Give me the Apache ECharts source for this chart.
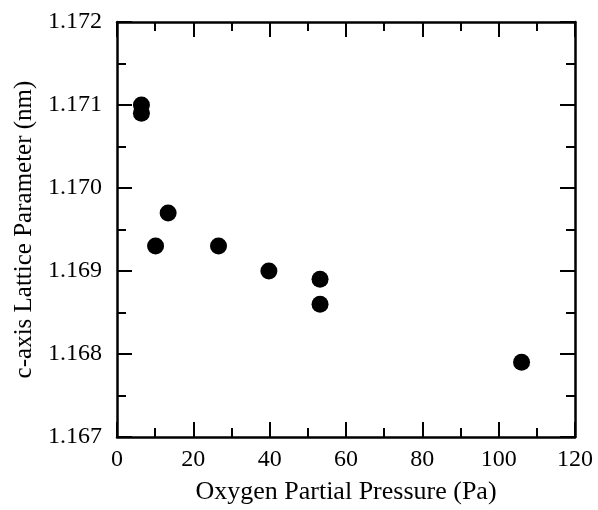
<!DOCTYPE html>
<html>
<head>
<meta charset="utf-8">
<script src="https://cdn.jsdelivr.net/npm/echarts@6/dist/echarts.min.js"></script>
<style>
  html, body { margin: 0; padding: 0; background: #fff; }
  #chart { width: 598px; height: 510px; }
</style>
</head>
<body>
<div id="chart"></div>
<script>
// oxygen partial pressure (Pa) vs c-axis lattice parameter (nm)
const pressure = [6.4, 6.4, 10.1, 13.4, 26.6, 39.8, 53.2, 53.2, 106];
const latticeC = [1.1710, 1.1709, 1.1693, 1.1697, 1.1693, 1.1690, 1.1689, 1.1686, 1.1679];

const xTitle = "Oxygen Partial Pressure (Pa)";
const yTitle = "c-axis Lattice Parameter (nm)";

const points = pressure.map((p, i) => [p, latticeC[i]]);

const font = "Liberation Serif";
const ink = "#000";

function tickBits(showLabels) {
  return {
    axisLine: { show: true, onZero: false, lineStyle: { color: ink, width: 2.5 } },
    axisTick: { show: true, inside: true, length: 15, lineStyle: { color: ink, width: 2 } },
    minorTick: { show: true, splitNumber: 2, length: 9, lineStyle: { color: ink, width: 2 } },
    splitLine: { show: false },
    axisLabel: { show: showLabels, color: ink, fontFamily: font, fontSize: 24 }
  };
}

const chart = echarts.init(document.getElementById("chart"));
chart.setOption({
  animation: false,
  grid: { left: 117, right: 23, top: 22, bottom: 67 },
  xAxis: [
    Object.assign({
      type: "value", position: "bottom", min: 0, max: 120, interval: 20,
      name: xTitle, nameLocation: "middle", nameGap: 42,
      nameTextStyle: { color: ink, fontFamily: font, fontSize: 26 }
    }, tickBits(true), {
      axisLabel: { color: ink, fontFamily: font, fontSize: 24, margin: 11 }
    }),
    Object.assign({ type: "value", position: "top", min: 0, max: 120, interval: 20 }, tickBits(false))
  ],
  yAxis: [
    Object.assign({
      type: "value", position: "left", min: 1.167, max: 1.172, interval: 0.001,
      name: yTitle, nameLocation: "middle", nameGap: 80,
      nameTextStyle: { color: ink, fontFamily: font, fontSize: 25 }
    }, tickBits(true), {
      axisLabel: {
        color: ink, fontFamily: font, fontSize: 24, margin: 15,
        formatter: v => v.toFixed(3)
      }
    }),
    Object.assign({ type: "value", position: "right", min: 1.167, max: 1.172, interval: 0.001 }, tickBits(false))
  ],
  series: [
    {
      type: "scatter",
      xAxisIndex: 0,
      yAxisIndex: 0,
      data: points,
      symbol: "circle",
      symbolSize: 17,
      itemStyle: { color: "#000", opacity: 1 }
    }
  ]
});
</script>
</body>
</html>
